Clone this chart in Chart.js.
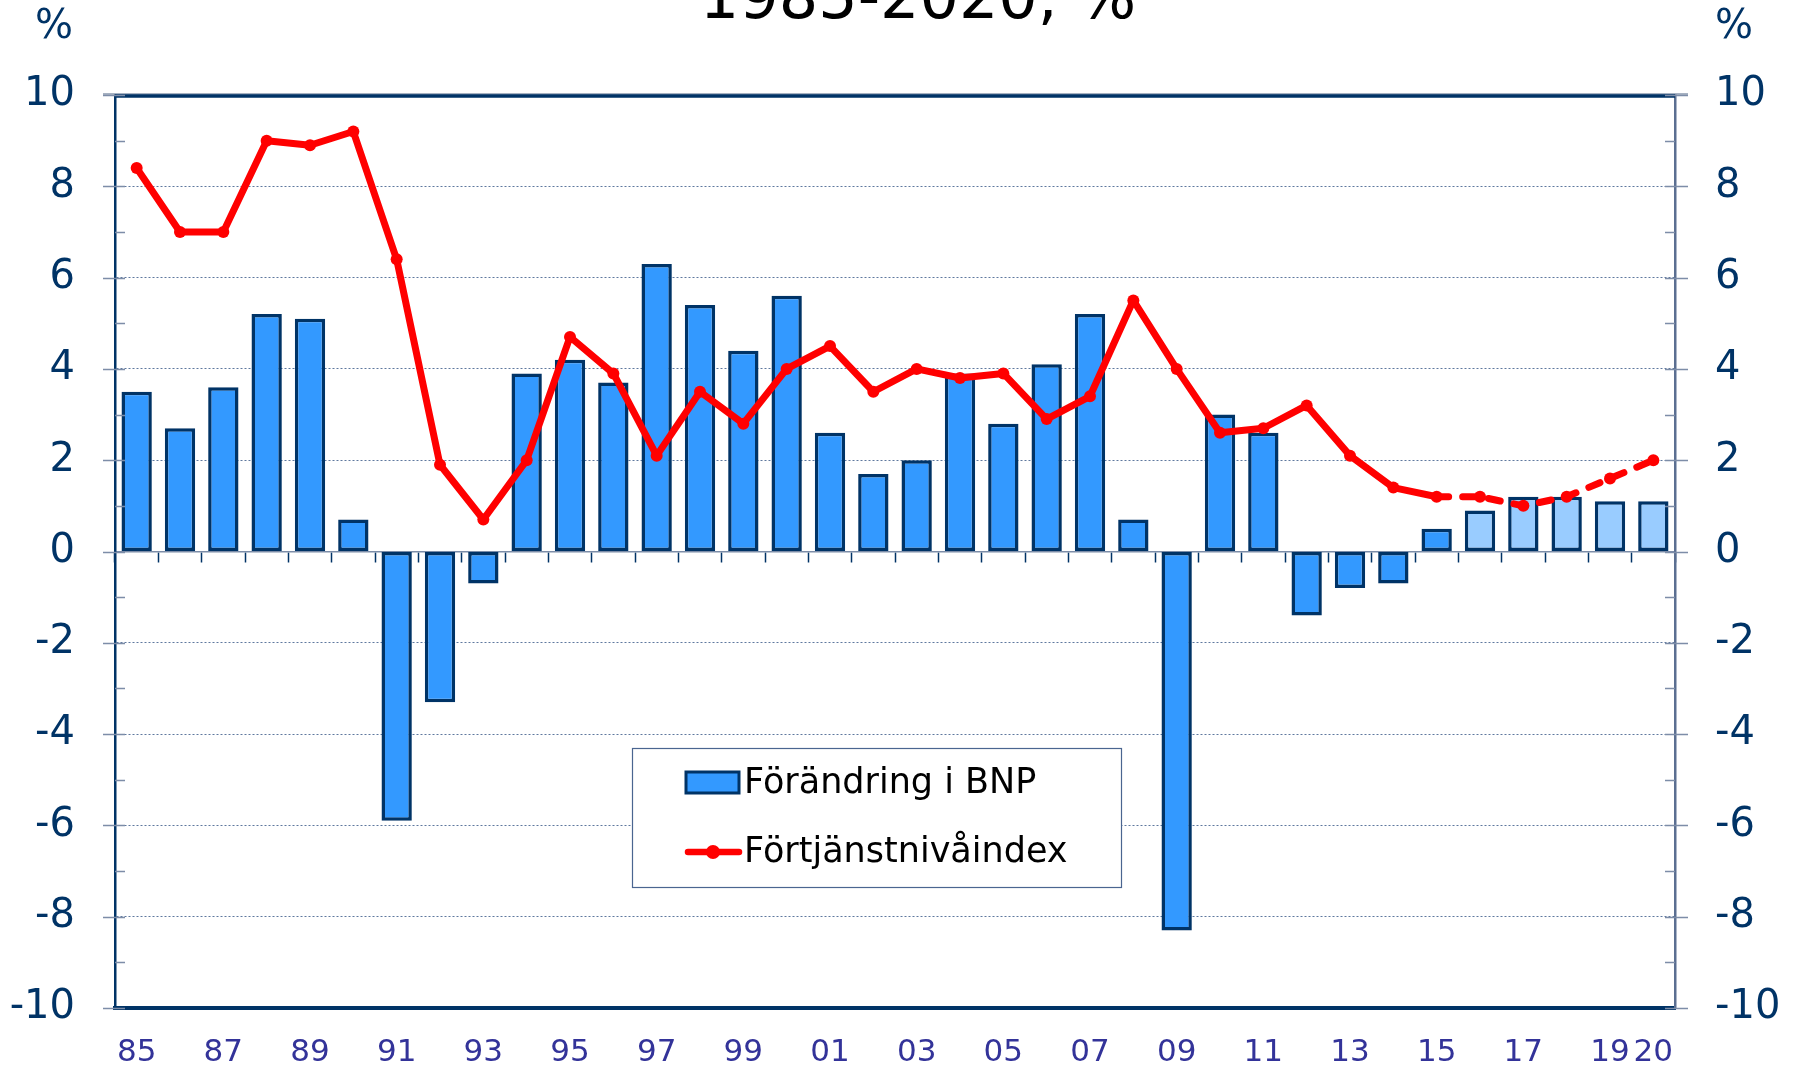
<!DOCTYPE html>
<html lang="sv">
<head>
    <meta charset="UTF-8">
    <title>BNP och förtjänstnivåindex 1985-2020</title>
    <script src="https://cdn.jsdelivr.net/npm/chart.js"></script>
    <style>
        body {
            margin: 0;
            background-color: white;
        }
    </style>
</head>
<body>
    <canvas id="bnpChart" width="1797" height="1067"></canvas>
    <script>
        // Years 1985-2020 (two-digit labels)
        const years = ['85', '86', '87', '88', '89', '90', '91', '92', '93', '94',
                       '95', '96', '97', '98', '99', '00', '01', '02', '03', '04',
                       '05', '06', '07', '08', '09', '10', '11', '12', '13', '14',
                       '15', '16', '17', '18', '19', '20'];
        const shownTicks = ['85', '87', '89', '91', '93', '95', '97', '99', '01', '03',
                            '05', '07', '09', '11', '13', '15', '17', '19', '20'];

        // Förändring i BNP, %
        const bnp = [3.5, 2.7, 3.6, 5.2, 5.1, 0.7, -5.9, -3.3, -0.7, 3.9,
                     4.2, 3.7, 6.3, 5.4, 4.4, 5.6, 2.6, 1.7, 2.0, 3.9,
                     2.8, 4.1, 5.2, 0.7, -8.3, 3.0, 2.6, -1.4, -0.8, -0.7,
                     0.5, 0.9, 1.2, 1.2, 1.1, 1.1];

        // Förtjänstnivåindex, %
        const fni = [8.4, 7.0, 7.0, 9.0, 8.9, 9.2, 6.4, 1.9, 0.7, 2.0,
                     4.7, 3.9, 2.1, 3.5, 2.8, 4.0, 4.5, 3.5, 4.0, 3.8,
                     3.9, 2.9, 3.4, 5.5, 4.0, 2.6, 2.7, 3.2, 2.1, 1.4,
                     1.2, 1.2, 1.0, 1.2, 1.6, 2.0];

        const yTicks = [-10, -8, -6, -4, -2, 0, 2, 4, 6, 8, 10];

        const forecastBar = 31;   // bars from 2016 are prognoses
        const forecastLine = 30;  // line dashed from 2015

        const navy = '#003366';
        const font = 'DejaVu Sans';

        // frame, extra tick marks, legend, title
        const decorations = {
            id: 'decorations',
            afterDatasetsDraw(chart) {
                const c = chart.ctx;
                const a = chart.chartArea;
                const y = chart.scales.y;
                c.save();
                // top border
                c.strokeStyle = '#8A98AE';
                c.lineWidth = 1.5;
                c.beginPath();
                c.moveTo(a.left - 12, a.top - 1);
                c.lineTo(a.right + 13, a.top - 1);
                c.stroke();
                c.strokeStyle = navy;
                c.lineWidth = 3.5;
                c.beginPath();
                c.moveTo(a.left, a.top + 1);
                c.lineTo(a.right, a.top + 1);
                c.stroke();

                // tick marks on both value axes
                for (let v = -10; v <= 10; v++) {
                    const py = Math.round(y.getPixelForValue(v)) + 0.5;
                    c.lineWidth = 1.5;
                    c.beginPath();
                    if (v % 2 === 0) {
                        c.strokeStyle = '#7D8DA8';
                        c.moveTo(a.left - 12, py);
                        c.lineTo(a.left + 10, py);
                        c.moveTo(a.right - 10, py);
                        c.lineTo(a.right + 13, py);
                    } else {
                        c.strokeStyle = navy;
                        c.moveTo(a.left, py);
                        c.lineTo(a.left + 10, py);
                        c.strokeStyle = '#7D8DA8';
                        c.moveTo(a.right - 10, py);
                        c.lineTo(a.right, py);
                    }
                    c.stroke();
                }

                // legend
                const ds = chart.data.datasets;
                c.fillStyle = 'white';
                c.fillRect(632, 748, 489, 139);
                c.strokeStyle = '#4A6590';
                c.lineWidth = 1.2;
                c.strokeRect(632.5, 748.5, 489, 139);

                c.fillStyle = '#3399FF';
                c.fillRect(686, 772, 53, 21);
                c.strokeStyle = navy;
                c.lineWidth = 3;
                c.strokeRect(686, 772, 53, 21);

                c.strokeStyle = 'red';
                c.lineWidth = 6.5;
                c.lineCap = 'round';
                c.beginPath();
                c.moveTo(688, 852);
                c.lineTo(739, 852);
                c.stroke();
                c.fillStyle = 'red';
                c.beginPath();
                c.arc(713, 852, 7, 0, Math.PI * 2);
                c.fill();

                c.fillStyle = 'black';
                c.font = '35px "' + font + '"';
                c.textAlign = 'left';
                c.textBaseline = 'middle';
                c.fillText(ds[1].label, 744, 784);
                c.fillText(ds[0].label, 744, 853);
                c.restore();
            },
            afterDraw(chart) {
                const c = chart.ctx;
                c.save();
                c.fillStyle = 'black';
                c.font = '62px "' + font + '"';
                c.textAlign = 'center';
                c.textBaseline = 'alphabetic';
                c.fillText('1985-2020, %', 918, 18);

                c.fillStyle = navy;
                c.font = '40px "' + font + '"';
                c.textBaseline = 'middle';
                c.fillText('%', 54, 28);
                c.fillText('%', 1734, 28);
                c.restore();
            }
        };

        const ctx = document.getElementById('bnpChart').getContext('2d');
        new Chart(ctx, {
            type: 'bar',
            data: {
                labels: years,
                datasets: [{
                    type: 'line',
                    label: 'Förtjänstnivåindex',
                    data: fni,
                    borderColor: '#FF0000',
                    backgroundColor: '#FF0000',
                    borderWidth: 7,
                    borderCapStyle: 'round',
                    borderJoinStyle: 'round',
                    pointRadius: 6,
                    pointBorderWidth: 0,
                    pointBackgroundColor: '#FF0000',
                    tension: 0,
                    order: 0,
                    segment: {
                        borderDash: c => c.p0DataIndex >= forecastLine ? [12, 14] : undefined
                    }
                }, {
                    label: 'Förändring i BNP',
                    data: bnp,
                    backgroundColor: c => c.dataIndex >= forecastBar ? '#99CCFF' : '#3399FF',
                    borderColor: navy,
                    borderWidth: 3.5,
                    borderSkipped: false,
                    categoryPercentage: 1,
                    barPercentage: 0.7,
                    order: 1
                }]
            },
            options: {
                responsive: false,
                animation: false,
                events: [],
                layout: { padding: { top: 95, left: 0, right: 0, bottom: 0 } },
                plugins: {
                    legend: { display: false },
                    tooltip: { enabled: false }
                },
                scales: {
                    x: {
                        type: 'category',
                        position: 'bottom',
                        offset: true,
                        grid: { display: false, drawTicks: false, offset: true },
                        border: { display: true, color: navy, width: 4 },
                        ticks: {
                            autoSkip: false,
                            maxRotation: 0,
                            padding: 26,
                            color: '#333399',
                            font: { family: font, size: 31 },
                            callback: function(value) {
                                const lab = this.getLabelForValue(value);
                                return shownTicks.includes(lab) ? lab : null;
                            }
                        },
                        afterFit: s => { s.height = 59; }
                    },
                    x2: {
                        type: 'category',
                        position: { y: 0 },
                        offset: true,
                        grid: {
                            offset: true,
                            drawOnChartArea: false,
                            drawTicks: true,
                            tickLength: 10,
                            tickWidth: 1.5,
                            tickColor: navy
                        },
                        border: { display: true, color: '#7C8DA8', width: 1.5 },
                        ticks: { display: false },
                        afterFit: s => { s.height = 0; }
                    },
                    y: {
                        position: 'left',
                        min: -10,
                        max: 10,
                        afterBuildTicks: s => { s.ticks = yTicks.map(v => ({ value: v })); },
                        // invisible tick marks keep the label gap without adding bottom padding
                        grid: {
                            drawTicks: true,
                            tickLength: 32,
                            tickColor: 'rgba(0,0,0,0)',
                            lineWidth: 1,
                            color: c => (c.tick && (c.tick.value === 0 || Math.abs(c.tick.value) === 10))
                                ? 'rgba(0,0,0,0)' : '#5F789E'
                        },
                        border: { display: true, color: navy, width: 2.5, dash: [2, 2] },
                        ticks: {
                            padding: 8,
                            color: navy,
                            font: { family: font, size: 40 }
                        },
                        afterFit: s => { s.width = 115; }
                    },
                    y2: {
                        position: 'right',
                        min: -10,
                        max: 10,
                        afterBuildTicks: s => { s.ticks = yTicks.map(v => ({ value: v })); },
                        grid: {
                            drawOnChartArea: false,
                            drawTicks: true,
                            tickLength: 32,
                            tickColor: 'rgba(0,0,0,0)'
                        },
                        border: { display: true, color: '#5B6F91', width: 2.5 },
                        ticks: {
                            padding: 8,
                            color: navy,
                            font: { family: font, size: 40 }
                        },
                        afterFit: s => { s.width = 122; }
                    }
                }
            },
            plugins: [decorations]
        });
    </script>
</body>
</html>
